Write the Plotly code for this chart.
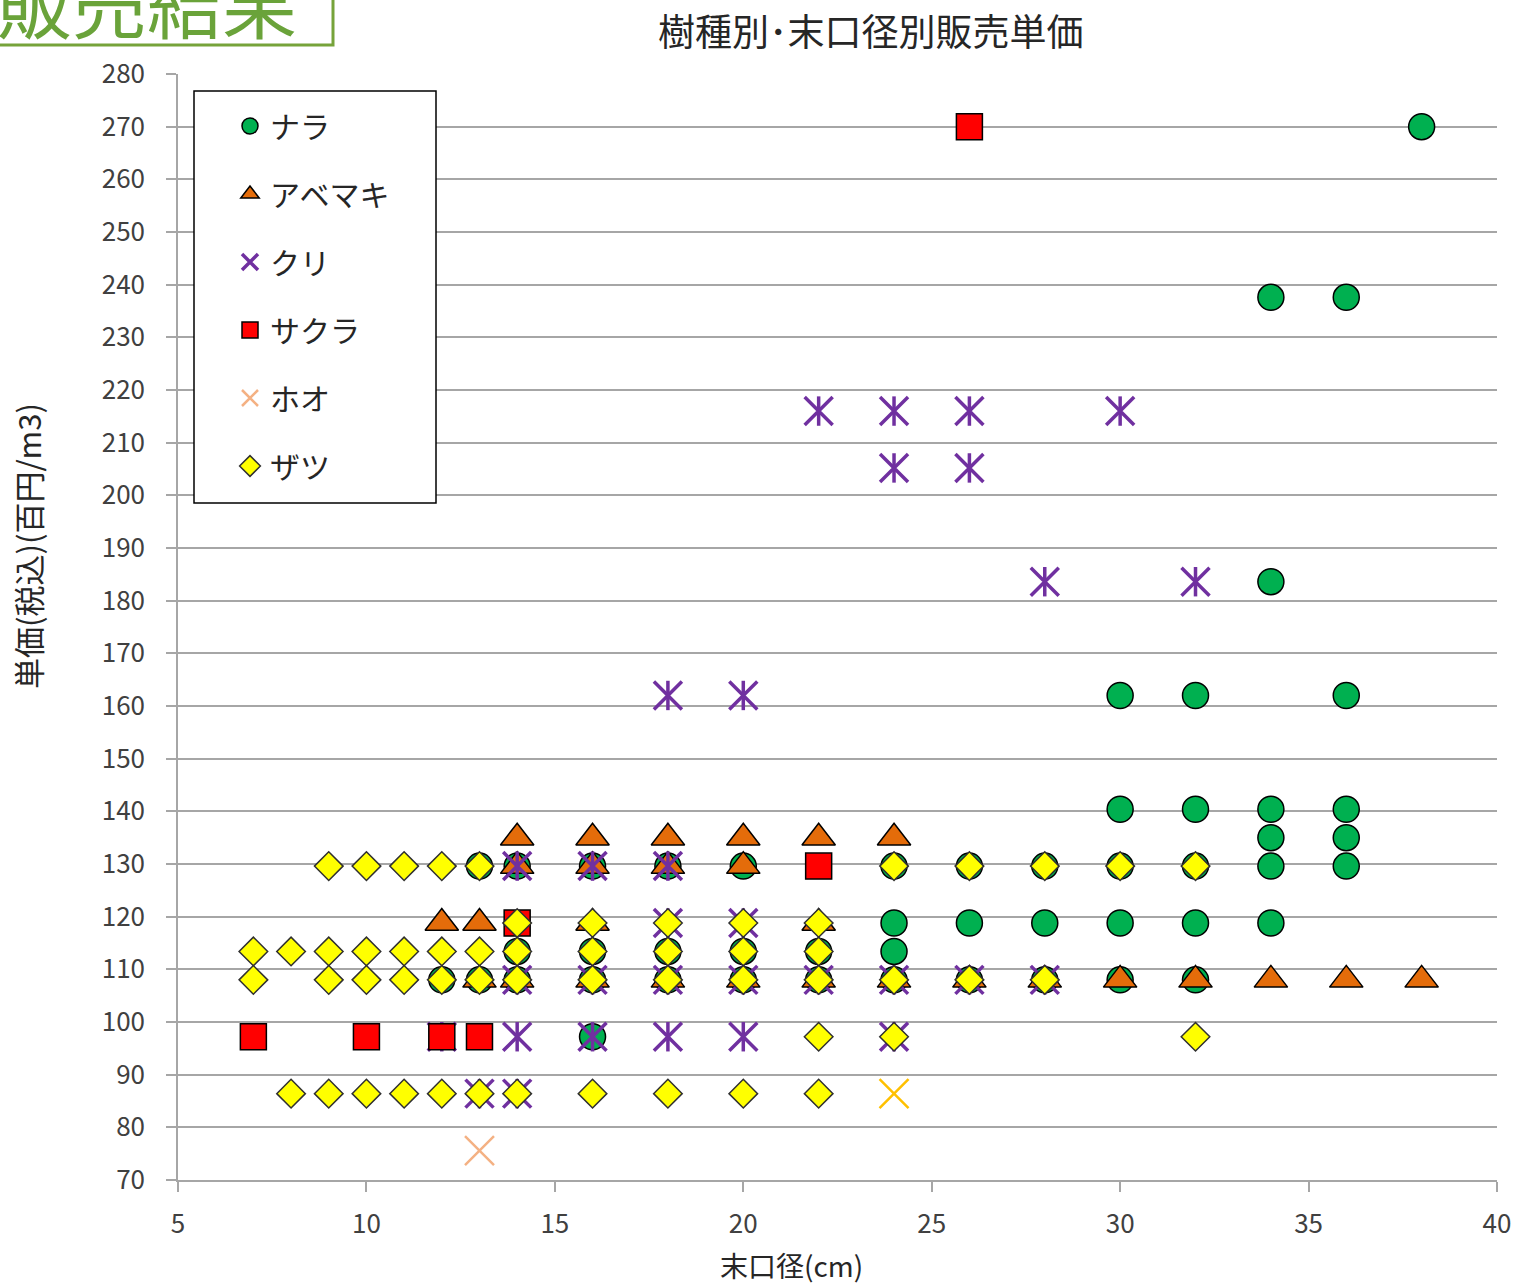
import plotly.graph_objects as go

# 末口径 (cm) and 単価 (百円/m3, 税込) for each tree species
nara_x = [12, 13, 13, 14, 14, 14, 16, 16, 16, 16, 18, 18, 18, 20, 20, 20, 22, 22,
          24, 24, 24, 24, 26, 26, 26, 28, 28, 28, 30, 30, 30, 30, 30,
          32, 32, 32, 32, 32, 34, 34, 34, 34, 34, 34, 36, 36, 36, 36, 36, 38]
nara_y = [108, 129.6, 108, 129.6, 113.4, 108, 129.6, 113.4, 108, 97.2, 129.6, 113.4, 108,
          129.6, 113.4, 108, 113.4, 108, 129.6, 118.8, 113.4, 108, 129.6, 118.8, 108,
          129.6, 118.8, 108, 162, 140.4, 129.6, 118.8, 108, 162, 140.4, 129.6, 118.8, 108,
          237.6, 183.6, 140.4, 135, 129.6, 118.8, 237.6, 162, 140.4, 135, 129.6, 270]

abemaki_x = [12, 13, 13, 14, 14, 14, 16, 16, 16, 16, 18, 18, 18, 20, 20, 20,
             22, 22, 22, 24, 24, 26, 28, 30, 32, 34, 36, 38]
abemaki_y = [118.8, 118.8, 108, 135, 129.6, 108, 135, 129.6, 118.8, 108, 135, 129.6, 108,
             135, 129.6, 108, 135, 118.8, 108, 135, 108, 108, 108, 108, 108, 108, 108, 108]

kuri_x = [12, 13, 14, 14, 14, 14, 16, 16, 16, 18, 18, 18, 18, 18, 20, 20, 20, 20,
          22, 22, 24, 24, 24, 24, 26, 26, 26, 28, 28, 30, 32]
kuri_y = [97.2, 86.4, 129.6, 108, 97.2, 86.4, 129.6, 108, 97.2, 162, 129.6, 118.8, 108, 97.2,
          162, 118.8, 108, 97.2, 216, 108, 216, 205.2, 108, 97.2, 216, 205.2, 108,
          183.6, 108, 216, 183.6]

sakura_x = [7, 10, 12, 13, 14, 22, 26]
sakura_y = [97.2, 97.2, 97.2, 97.2, 118.8, 129.6, 270]

hoo_x = [13, 24]
hoo_y = [75.6, 86.4]

zatsu_x = [7, 7, 8, 8, 9, 9, 9, 9, 10, 10, 10, 10, 11, 11, 11, 11, 12, 12, 12, 12,
           13, 13, 13, 13, 14, 14, 14, 14, 16, 16, 16, 16, 18, 18, 18, 18, 20, 20, 20, 20,
           22, 22, 22, 22, 22, 24, 24, 24, 26, 26, 28, 28, 30, 32, 32]
zatsu_y = [113.4, 108, 113.4, 86.4, 129.6, 113.4, 108, 86.4, 129.6, 113.4, 108, 86.4,
           129.6, 113.4, 108, 86.4, 129.6, 113.4, 108, 86.4, 129.6, 113.4, 108, 86.4,
           118.8, 113.4, 108, 86.4, 118.8, 113.4, 108, 86.4, 118.8, 113.4, 108, 86.4,
           118.8, 113.4, 108, 86.4, 118.8, 113.4, 108, 97.2, 86.4, 129.6, 108, 97.2,
           129.6, 108, 129.6, 108, 129.6, 129.6, 97.2]

x_ticks = [5, 10, 15, 20, 25, 30, 35, 40]
y_ticks = list(range(70, 290, 10))

JP = "Noto Sans CJK JP"
OUT = dict(color="black", width=1.5)
KURI = "#7030A0"

fig = go.Figure()
fig.add_trace(go.Scatter(x=nara_x, y=nara_y, mode="markers", name="ナラ", legendgroup="a",
                         marker=dict(symbol="circle", size=26, color="#00B050", line=OUT)))
fig.add_trace(go.Scatter(x=abemaki_x, y=abemaki_y, mode="markers", name="アベマキ", legendgroup="b",
                         marker=dict(symbol="triangle-up", size=29, color="#E46C0A", line=OUT)))
# クリ: an X with a vertical stroke through it
fig.add_trace(go.Scatter(x=kuri_x, y=kuri_y, mode="markers", name="クリ", legendgroup="c",
                         marker=dict(symbol="x-thin-open", size=28, color=KURI,
                                     line=dict(color=KURI, width=3.5))))
fig.add_trace(go.Scatter(x=kuri_x, y=kuri_y, mode="markers", name="クリ", legendgroup="c",
                         showlegend=False,
                         marker=dict(symbol="line-ns-open", size=21, color=KURI,
                                     line=dict(color=KURI, width=3.5))))
fig.add_trace(go.Scatter(x=sakura_x, y=sakura_y, mode="markers", name="サクラ", legendgroup="d",
                         marker=dict(symbol="square", size=26, color="#FF0000", line=OUT)))
fig.add_trace(go.Scatter(x=hoo_x, y=hoo_y, mode="markers", name="ホオ", legendgroup="e",
                         marker=dict(symbol="x-thin-open", size=29, color=["#F4B183", "#FFC000"],
                                     line=dict(width=2.5))))
fig.add_trace(go.Scatter(x=zatsu_x, y=zatsu_y, mode="markers", name="ザツ", legendgroup="f",
                         marker=dict(symbol="diamond", size=22, color="#FFFF00",
                                     line=dict(color="#303030", width=1.5))))

axis_line = "#A6A6A6"
fig.update_xaxes(range=[5, 40], tickvals=x_ticks, ticks="outside", ticklen=10,
                 tickcolor=axis_line, tickwidth=1.5, showgrid=False, zeroline=False,
                 showline=True, linecolor=axis_line, linewidth=1.5, automargin=False,
                 tickfont=dict(family=JP, size=26, color="#404040"), ticklabelstandoff=10)
fig.update_yaxes(range=[70, 280], tickvals=y_ticks, ticks="outside", ticklen=10,
                 tickcolor=axis_line, tickwidth=1.5, showgrid=True, gridcolor=axis_line,
                 gridwidth=1.5, zeroline=False, showline=True, linecolor=axis_line,
                 linewidth=1.5, automargin=False,
                 tickfont=dict(family=JP, size=26, color="#404040"), ticklabelstandoff=16)

# legend frame (white box behind the legend entries)
fig.add_shape(type="rect", xref="paper", yref="paper", layer="above",
              x0=(194 - 178) / 1319, x1=(436 - 178) / 1319,
              y0=(1180 - 503) / 1106, y1=(1180 - 91) / 1106,
              fillcolor="white", line=dict(color="black", width=1.5))

# page header box
fig.add_shape(type="rect", xref="paper", yref="paper", layer="above",
              x0=(-20 - 178) / 1319, x1=(333 - 178) / 1319,
              y0=(1180 - 45) / 1106, y1=(1180 + 20) / 1106,
              fillcolor="rgba(0,0,0,0)", line=dict(color="#76A33A", width=3))

fig.add_annotation(text="販売結果", xref="paper", yref="paper",
                   x=(147 - 178) / 1319, y=(1180 - 1) / 1106, showarrow=False,
                   xanchor="center", yanchor="middle",
                   font=dict(family=JP, size=75, color="#6AA33A"))
fig.add_annotation(text="樹種別･末口径別販売単価", xref="paper", yref="paper",
                   x=(871 - 178) / 1319, y=(1180 - 30) / 1106, showarrow=False,
                   xanchor="center", yanchor="middle",
                   font=dict(family=JP, size=37, color="#262626"))
fig.add_annotation(text="末口径(cm)", xref="paper", yref="paper",
                   x=(791 - 178) / 1319, y=(1180 - 1265) / 1106, showarrow=False,
                   xanchor="center", yanchor="middle",
                   font=dict(family=JP, size=28, color="#262626"))
fig.add_annotation(text="単価(税込)(百円/m3)", xref="paper", yref="paper",
                   x=(27 - 178) / 1319, y=(1180 - 546) / 1106, showarrow=False,
                   xanchor="center", yanchor="middle", textangle=-90,
                   font=dict(family=JP, size=31, color="#262626"))

fig.update_layout(
    width=1519, height=1284,
    margin=dict(l=178, r=22, t=74, b=104),
    paper_bgcolor="white", plot_bgcolor="white",
    font=dict(family=JP, color="#262626"),
    legend=dict(x=(230 - 178) / 1319, y=(1180 - 100) / 1106, xanchor="left", yanchor="top",
                bgcolor="rgba(0,0,0,0)", borderwidth=0, tracegroupgap=26,
                font=dict(family=JP, size=30, color="#262626")),
)

fig.write_html("out.html")
